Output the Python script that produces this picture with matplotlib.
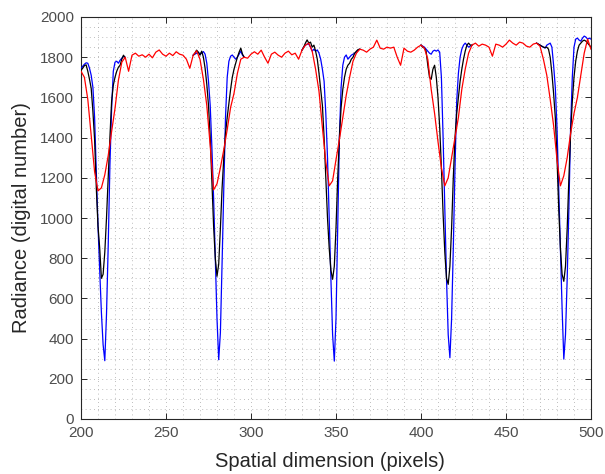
import numpy as np
import matplotlib
matplotlib.use("Agg")
import matplotlib.pyplot as plt

# ---------------- data ----------------
red_x = np.arange(200, 501, 2)
red_y = [
    1730, 1700, 1590, 1410, 1230, 1135, 1150, 1215, 1310, 1430,   # 200-218
    1545, 1685, 1775, 1800, 1730, 1810, 1820, 1805, 1812, 1800,   # 220-238
    1815, 1797, 1825, 1836, 1815, 1805, 1820, 1808, 1827, 1815,   # 240-258
    1810, 1790, 1745, 1810, 1832, 1790, 1690, 1560, 1360, 1140,   # 260-278
    1170, 1250, 1340, 1440, 1550, 1620, 1720, 1790, 1800, 1795,   # 280-298
    1815, 1827, 1815, 1835, 1800, 1770, 1815, 1825, 1810, 1800,   # 300-318
    1820, 1830, 1812, 1820, 1790, 1835, 1860, 1870, 1830, 1740,   # 320-338
    1630, 1450, 1280, 1160, 1185, 1290, 1390, 1500, 1610, 1700,   # 340-358
    1780, 1820, 1840, 1835, 1825, 1840, 1850, 1885, 1845, 1840,   # 360-378
    1850, 1845, 1850, 1800, 1760, 1845, 1830, 1825, 1835, 1850,   # 380-398
    1860, 1845, 1790, 1640, 1520, 1380, 1250, 1160, 1200, 1300,   # 400-418
    1400, 1500, 1640, 1740, 1820, 1860, 1870, 1855, 1865, 1860,   # 420-438
    1850, 1805, 1865, 1860, 1850, 1865, 1885, 1870, 1860, 1875,   # 440-458
    1870, 1855, 1850, 1865, 1870, 1855, 1790, 1710, 1590, 1460,   # 460-478
    1290, 1160, 1210, 1300, 1420, 1520, 1600, 1710, 1820, 1890,   # 480-498
    1840,                                                         # 500
]

# first pixel of each dip window (1-pixel steps inside each window);
# outside these windows the blue and black profiles lie under the red one
dip_starts = [200, 266, 330, 400, 468]

blue_dips = [
    [1745, 1755, 1765, 1772, 1770, 1745, 1710, 1650, 1500, 1230, 960, 740, 530, 370,
     290, 520, 860, 1260, 1540, 1730, 1775, 1780, 1770, 1785, 1795, 1805, 1800],
    [1810, 1815, 1820, 1825, 1815, 1820, 1828, 1815, 1770, 1680, 1560, 1350, 1100, 800,
     500, 295, 430, 780, 1150, 1500, 1700, 1780, 1805, 1811, 1800, 1790, 1800, 1815,
     1830, 1810, 1800],
    [1835, 1850, 1860, 1865, 1865, 1850, 1830, 1840, 1830, 1836, 1820, 1790, 1740, 1680,
     1520, 1300, 1000, 700, 420, 288, 500, 950, 1400, 1650, 1760, 1800, 1811, 1790,
     1800, 1810, 1815, 1820, 1825, 1835, 1840],
    [1860, 1855, 1850, 1840, 1830, 1820, 1815, 1830, 1835, 1830, 1836, 1825, 1700, 1400,
     1050, 700, 420, 305, 500, 850, 1250, 1580, 1720, 1800, 1840, 1860, 1870, 1860,
     1850, 1855, 1860],
    [1870, 1865, 1860, 1855, 1850, 1845, 1860, 1865, 1870, 1850, 1760, 1650, 1450, 1150,
     850, 550, 298, 420, 700, 1050, 1450, 1700, 1850, 1890, 1895, 1885, 1880, 1895,
     1905, 1900, 1890, 1895, 1890],
]

black_dips = [
    [1735, 1745, 1758, 1762, 1730, 1690, 1645, 1530, 1390, 1150, 960, 850, 700, 720,
     830, 1000, 1200, 1400, 1580, 1660, 1700, 1730, 1750, 1760, 1790, 1810, 1795],
    [1810, 1820, 1835, 1825, 1810, 1830, 1800, 1745, 1665, 1560, 1400, 1180, 960, 800,
     710, 770, 950, 1150, 1300, 1420, 1500, 1570, 1640, 1700, 1740, 1770, 1800, 1825,
     1845, 1815, 1800],
    [1835, 1850, 1870, 1886, 1870, 1875, 1850, 1860, 1830, 1790, 1720, 1640, 1560, 1400,
     1200, 1000, 850, 740, 695, 760, 950, 1200, 1400, 1550, 1640, 1700, 1740, 1760,
     1770, 1790, 1800, 1820, 1830, 1838, 1840],
    [1860, 1850, 1845, 1830, 1760, 1700, 1690, 1740, 1760, 1700, 1600, 1450, 1250, 1020,
     830, 700, 670, 760, 950, 1200, 1400, 1520, 1600, 1680, 1740, 1790, 1830, 1860,
     1870, 1860, 1860],
    [1870, 1865, 1860, 1855, 1850, 1848, 1850, 1840, 1800, 1720, 1620, 1500, 1300, 1050,
     850, 720, 685, 760, 950, 1200, 1420, 1580, 1700, 1780, 1830, 1860, 1870, 1880,
     1885, 1880, 1870, 1860, 1850],
]

x_ticks = [200, 250, 300, 350, 400, 450, 500]
y_ticks = [0, 200, 400, 600, 800, 1000, 1200, 1400, 1600, 1800, 2000]
x_label = "Spatial dimension (pixels)"
y_label = "Radiance (digital number)"

# ---------------- figure ----------------
plt.rcParams['font.family'] = ['Liberation Sans', 'DejaVu Sans']
fig = plt.figure(figsize=(6.05, 4.74), dpi=100)
ax = fig.add_axes([81 / 605, 55 / 474, 510 / 605, 402 / 474])

for s, vals in zip(dip_starts, blue_dips):
    ax.plot(np.arange(s, s + len(vals)), vals, color=(0, 0, 1), lw=0.9, zorder=3)
for s, vals in zip(dip_starts, black_dips):
    ax.plot(np.arange(s, s + len(vals)), vals, color='black', lw=0.9, zorder=4)
ax.plot(red_x, red_y, color=(1, 0, 0), lw=0.9, zorder=5)

ax.set_xlim(200, 500)
ax.set_ylim(0, 2000)
ax.set_xticks(x_ticks)
ax.set_yticks(y_ticks)
ax.set_xticks(np.arange(200, 501, 10), minor=True)
ax.set_yticks(np.arange(0, 2001, 50), minor=True)

grid_kw = dict(color='#a8a8a8', linewidth=0.6, linestyle=(0, (1, 4)))
ax.grid(True, which='both', **grid_kw)
ax.set_axisbelow(True)

ax.tick_params(which='major', direction='in', length=4, width=0.7,
               top=True, right=True, labelsize=11, colors='#262626',
               labelcolor='#4d4d4d', pad=5)
ax.tick_params(which='minor', length=0, top=True, right=True)
for sp in ax.spines.values():
    sp.set_color('#262626')
    sp.set_linewidth(0.8)

ax.set_xlabel(x_label, fontsize=14.5, color='#262626')
ax.set_ylabel(y_label, fontsize=14.5, color='#262626')
ax.xaxis.set_label_coords(0.488, -0.083)
ax.yaxis.set_label_coords(-0.098, 0.5)

fig.savefig("out.png", dpi=100)
